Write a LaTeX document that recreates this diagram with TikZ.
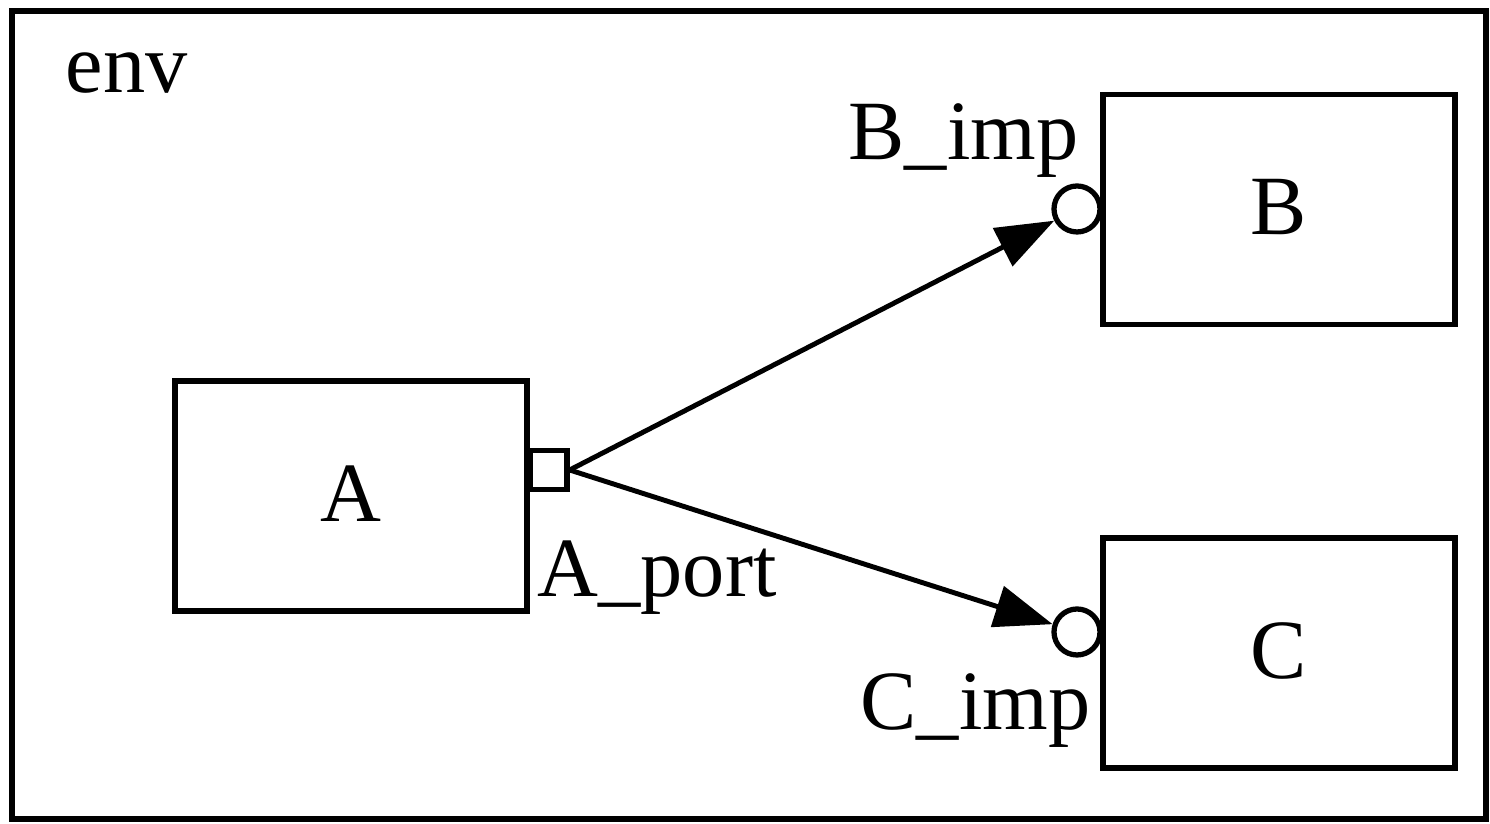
\documentclass[tikz,border=0pt]{standalone}
\usepackage{fontspec}
\setmainfont{Liberation Serif}
\usepackage{tikz}
\usetikzlibrary{arrows.meta, positioning}
\definecolor{mydark}{RGB}{0,0,0}
\tikzset{
  block/.style={rectangle, draw=mydark, fill=white,
    minimum width=3.52cm, minimum height=2.30cm,
    font=\fontsize{24}{28}\selectfont, line width=1.6pt},
  portbox/.style={rectangle, draw=mydark, fill=white, inner sep=0pt,
    minimum width=0.37cm, minimum height=0.39cm, line width=1.6pt},
  impnode/.style={circle, draw=mydark, fill=white, inner sep=0pt,
    minimum size=0.46cm, line width=1.5pt},
  lbl/.style={font=\fontsize{24}{28}\selectfont, inner sep=0pt, anchor=base west},
  arrow/.style={-{Triangle[length=0.58cm, width=0.42cm]}, line width=1.4pt, color=mydark}
}
\begin{document}
\begin{tikzpicture}
\useasboundingbox (0,0) rectangle (14.9,8.24);
% outer environment
\draw[line width=1.7pt, color=mydark] (0.12,0.05) rectangle (14.86,8.13);
\node[lbl] (env) at (0.65,7.31) {env};
% components
\node[block] (A) at (3.51,3.28) {\raisebox{0.5mm}{A}};
\node[block] (B) at (12.79,6.145) {\raisebox{0.5mm}{B}};
\node[block] (C) at (12.79,1.71) {\raisebox{0.5mm}{C}};
% ports
\node[portbox, anchor=west] (Aport) at (5.27,3.54) {};
\node[impnode] (Bimp) at (10.77,6.15) {};
\node[impnode] (Cimp) at (10.77,1.92) {};
\node[lbl] (lblAport) at (5.37,2.27) {A\_port};
\node[lbl] (lblBimp) at (8.48,6.64) {B\_imp};
\node[lbl] (lblCimp) at (8.60,0.94) {C\_imp};
% links
\draw[arrow] (Aport.east) -- (Bimp);
\draw[arrow] (Aport.east) -- (Cimp);
\end{tikzpicture}
\end{document}
